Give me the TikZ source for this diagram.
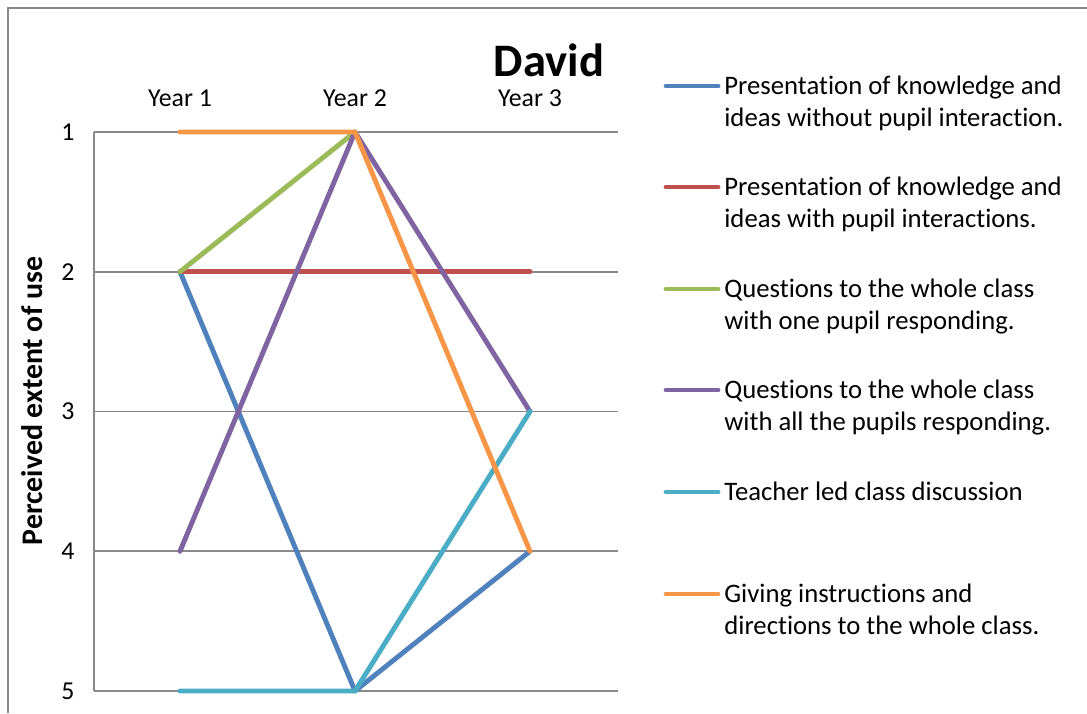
\documentclass[tikz,border=0pt]{standalone}
\usepackage{fontspec}
\setmainfont[Ligatures=NoCommon]{Carlito}
\definecolor{sblue}{HTML}{4F81BD}
\definecolor{sred}{HTML}{C0504D}
\definecolor{sgreen}{HTML}{9BBB59}
\definecolor{spurple}{HTML}{8064A2}
\definecolor{saqua}{HTML}{4BACC6}
\definecolor{sorange}{HTML}{F79646}
\definecolor{gridgray}{HTML}{898989}
\begin{document}
\begin{tikzpicture}[x=0.02cm, y=-0.02cm,
    series/.style={line width=2.8pt, line cap=round, line join=round},
    gridline/.style={draw=gridgray, line width=0.9pt},
    lbl/.style={font=\fontsize{14.7}{18.1}\selectfont, inner sep=0pt},
    legtext/.style={inner sep=0pt, font=\fontsize{15.2}{18.1}\selectfont, anchor=base west, align=left}]
\useasboundingbox (0,0) rectangle (1087,713);
% chart frame
\draw[gridline, line width=0.7pt] (8,713) -- (8,8) -- (1087,8);
% gridlines and tick labels
\foreach \v in {1,...,5} {
    \draw[gridline] (94,{132+139.75*(\v-1)}) -- (618,{132+139.75*(\v-1)});
    \node[lbl] (tick\v) at (68,{132+139.75*(\v-1)}) {\v};
}
\draw[gridline] (94,132) -- (94,691);
% points, years x levels
\foreach \i in {1,2,3} {
    \node[lbl] (year\i) at ({5+175*\i},98) {Year \i};
    \foreach \v in {1,...,5}
        \coordinate (p\i\v) at ({5+175*\i},{132+139.75*(\v-1)});
}
\node[font=\fontsize{26.5}{31}\selectfont\bfseries, inner sep=0pt] (title) at (549,60) {David};
\node[inner sep=0pt, font=\fontsize{17}{20}\selectfont\bfseries, rotate=90] (ytitle) at (32,401) {Perceived extent of use};
% series
\draw[series, sblue] (p12) -- (p25) -- (p34);
\draw[series, sred] (p12) -- (p22) -- (p32);
\draw[series, sgreen] (p12) -- (p21);
\draw[series, spurple] (p14) -- (p21) -- (p33);
\draw[series, saqua] (p15) -- (p25) -- (p33);
\draw[series, sorange] (p11) -- (p21) -- (p34);
% legend
\foreach \c/\y/\n/\t [count=\k] in {
    sblue/86/2/{Presentation of knowledge and\\ideas without pupil interaction.},
    sred/187/2/{Presentation of knowledge and\\ideas with pupil interactions.},
    sgreen/289/2/{Questions to the whole class\\with one pupil responding.},
    spurple/390/2/{Questions to the whole class\\with all the pupils responding.},
    saqua/492/1/{Teacher led class discussion},
    sorange/594/2/{Giving instructions and\\directions to the whole class.}} {
    \coordinate (key\k) at (666,\y);
    \draw[series, \c] (key\k) -- ++(52,0);
    \node[legtext] (leg\k) at (724,{\y+8+32*(\n-1)}) {\t};
}
\end{tikzpicture}
\end{document}
